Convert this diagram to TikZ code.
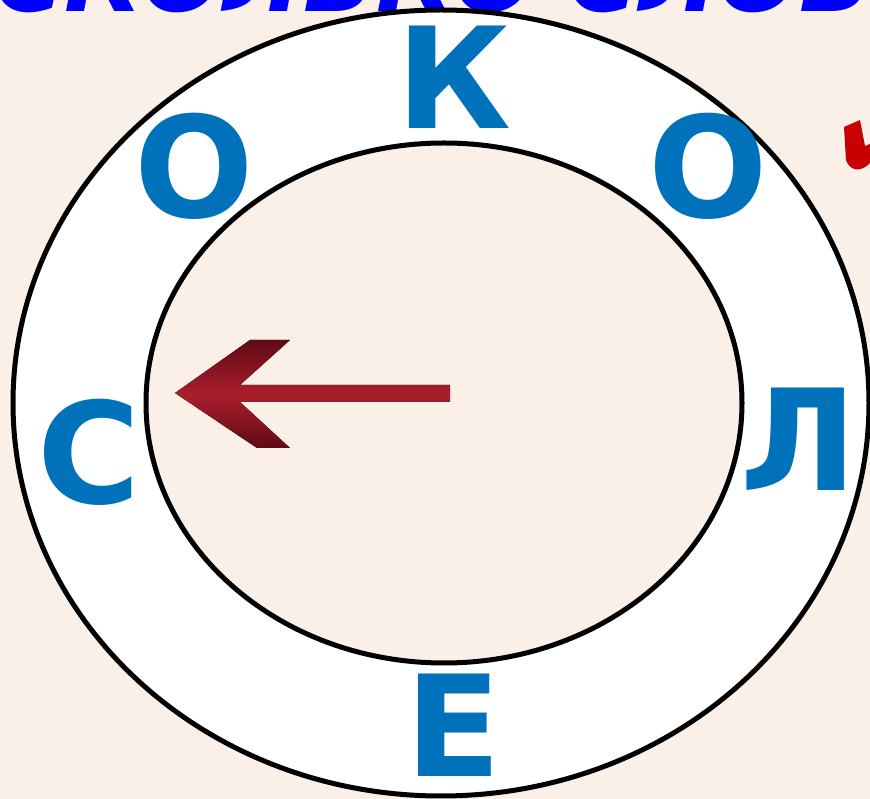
\documentclass[tikz,border=0pt]{standalone}
\usepackage{fontspec}
\usepackage{tikz}
\usetikzlibrary{positioning,calc}
\newfontfamily\wheelfont{DejaVu Sans}
\definecolor{pagebg}{RGB}{251,240,232}
\definecolor{letterclr}{RGB}{0,114,188}
\definecolor{titleclr}{RGB}{0,0,255}
\definecolor{arrowred}{RGB}{170,30,45}
\definecolor{arrowdark}{RGB}{95,10,20}
\definecolor{markred}{RGB}{200,0,0}
\tikzset{
  ring/.style={draw=black,line width=0.125cm},
  letter/.style={text=letterclr,inner sep=0pt,
                 font=\wheelfont\bfseries\fontsize{100}{100}\selectfont},
  title/.style={text=titleclr,inner sep=0pt,anchor=base west,
                font=\wheelfont\bfseries\itshape\fontsize{68}{68}\selectfont},
  glitter/.style={top color=arrowdark,bottom color=arrowdark,
                  middle color=arrowred},
}
\begin{document}
\begin{tikzpicture}[x=0.025cm,y=-0.025cm]
% page
\useasboundingbox (0,0) rectangle (870,799);
\fill[pagebg] (0,0) rectangle (870,799);
\clip (0,0) rectangle (870,799);

% title (cut off by the top edge)
\node[title] (head) at (-6,12) {СКОЛЬКО СЛОВ};

% wheel
\coordinate (hub) at (441,403);
\filldraw[ring,fill=white] (hub) ellipse [x radius=428, y radius=393];
\filldraw[ring,fill=pagebg] (444,403) ellipse [x radius=298, y radius=260];

% letters on the rim
\node[letter] (k)  at (454,77)  {К};
\node[letter] (o1) at (708,166) {О};
\node[letter] (l)  at (799,439) {Л};
\node[letter] (e)  at (454,725) {Е};
\node[letter] (s)  at (89,452)  {С};
\node[letter] (o2) at (194,166) {О};

% arrow
\fill[glitter] (175,393) -- (250,340) -- (290,340) -- (240,385)
  -- (450,385) -- (450,402) -- (240,402) -- (290,448) -- (257,448) -- cycle;

% red mark on the right edge
\fill[markred] (844,127) -- (860,120) -- (865,146) -- (870,144) -- (870,163)
  .. controls (862,172) and (850,172) .. (846,160) -- cycle;
\end{tikzpicture}
\end{document}
